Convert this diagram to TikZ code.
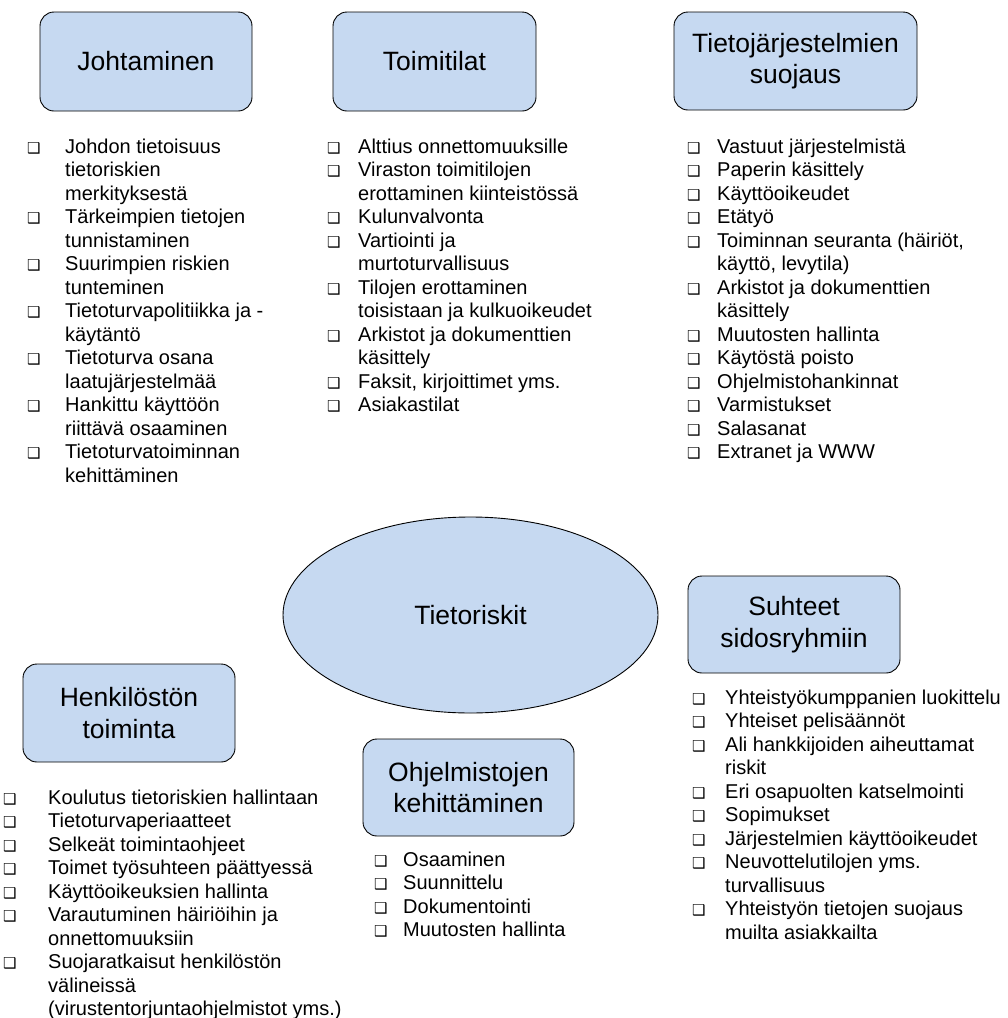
\documentclass[tikz,border=0pt]{standalone}
\usepackage{fontspec}
\setmainfont{Liberation Sans}
\newfontfamily\merkkifont{DejaVu Sans}
\usepackage{tikz}
\usetikzlibrary{positioning,shapes.geometric}
\definecolor{aiheblue}{RGB}{198,217,241}
\newcommand{\kohta}{{\merkkifont\bfseries\fontsize{15}{15}\selectfont ❑}}

\begin{document}
\begin{tikzpicture}[x=1pt,y=-1pt,
    topic node/.style={draw,rounded corners=14pt,fill=aiheblue,line width=0.9pt,
        align=center,inner sep=0pt,font=\fontsize{26.5}{31.5}\selectfont},
    risk node/.style={ellipse,draw,fill=aiheblue,line width=0.9pt,inner sep=0pt,
        minimum width=375pt,minimum height=196pt,font=\fontsize{26.5}{31.5}\selectfont},
    list node/.style={anchor=base west,inner sep=0pt,font=\fontsize{20}{23.5}\selectfont}]
\useasboundingbox (0,0) rectangle (1008,1018);
%Nodes
    \node[topic node, minimum width=212pt, minimum height=99pt] (johtaminen) at (146,61.5) {Johtaminen};
    \node[topic node, minimum width=203pt, minimum height=99pt] (toimitilat) at (434.5,61.5) {Toimitilat};
    \node[topic node, minimum width=243pt, minimum height=98pt] (tjsuojaus) at (795.5,61) {Tietojärjestelmien\\suojaus};
    \node[risk node] (tietoriskit) at (470.5,615) {Tietoriskit};
    \node[topic node, minimum width=212pt, minimum height=97pt] (suhteet) at (794,624.5) {Suhteet\\sidosryhmiin};
    \node[topic node, minimum width=212pt, minimum height=98pt] (henkilosto) at (129,713) {Henkilöstön\\toiminta};
    \node[topic node, minimum width=211pt, minimum height=97pt] (ohjelmistot) at (468.5,787.5) {Ohjelmistojen\\kehittäminen};

%Lists
    \node[list node] (johtLista) at (27,153) {\begin{tabular}[t]{@{}p{38pt}@{}l@{}}
        \kohta & Johdon tietoisuus\\
               & tietoriskien\\
               & merkityksestä\\
        \kohta & Tärkeimpien tietojen\\
               & tunnistaminen\\
        \kohta & Suurimpien riskien\\
               & tunteminen\\
        \kohta & Tietoturvapolitiikka ja -\\
               & käytäntö\\
        \kohta & Tietoturva osana\\
               & laatujärjestelmää\\
        \kohta & Hankittu käyttöön\\
               & riittävä osaaminen\\
        \kohta & Tietoturvatoiminnan\\
               & kehittäminen
    \end{tabular}};
    \node[list node] (toimLista) at (327,153) {\begin{tabular}[t]{@{}p{31pt}@{}l@{}}
        \kohta & Alttius onnettomuuksille\\
        \kohta & Viraston toimitilojen\\
               & erottaminen kiinteistössä\\
        \kohta & Kulunvalvonta\\
        \kohta & Vartiointi ja\\
               & murtoturvallisuus\\
        \kohta & Tilojen erottaminen\\
               & toisistaan ja kulkuoikeudet\\
        \kohta & Arkistot ja dokumenttien\\
               & käsittely\\
        \kohta & Faksit, kirjoittimet yms.\\
        \kohta & Asiakastilat
    \end{tabular}};
    \node[list node] (tjLista) at (687,153) {\begin{tabular}[t]{@{}p{30pt}@{}l@{}}
        \kohta & Vastuut järjestelmistä\\
        \kohta & Paperin käsittely\\
        \kohta & Käyttöoikeudet\\
        \kohta & Etätyö\\
        \kohta & Toiminnan seuranta (häiriöt,\\
               & käyttö, levytila)\\
        \kohta & Arkistot ja dokumenttien\\
               & käsittely\\
        \kohta & Muutosten hallinta\\
        \kohta & Käytöstä poisto\\
        \kohta & Ohjelmistohankinnat\\
        \kohta & Varmistukset\\
        \kohta & Salasanat\\
        \kohta & Extranet ja WWW
    \end{tabular}};
    \node[list node] (suhdeLista) at (692,704) {\begin{tabular}[t]{@{}p{33pt}@{}l@{}}
        \kohta & Yhteistyökumppanien luokittelu\\
        \kohta & Yhteiset pelisäännöt\\
        \kohta & Ali hankkijoiden aiheuttamat\\
               & riskit\\
        \kohta & Eri osapuolten katselmointi\\
        \kohta & Sopimukset\\
        \kohta & Järjestelmien käyttöoikeudet\\
        \kohta & Neuvottelutilojen yms.\\
               & turvallisuus\\
        \kohta & Yhteistyön tietojen suojaus\\
               & muilta asiakkailta
    \end{tabular}};
    \node[list node] (henkLista) at (3,804) {\begin{tabular}[t]{@{}p{45pt}@{}l@{}}
        \kohta & Koulutus tietoriskien hallintaan\\
        \kohta & Tietoturvaperiaatteet\\
        \kohta & Selkeät toimintaohjeet\\
        \kohta & Toimet työsuhteen päättyessä\\
        \kohta & Käyttöoikeuksien hallinta\\
        \kohta & Varautuminen häiriöihin ja\\
               & onnettomuuksiin\\
        \kohta & Suojaratkaisut henkilöstön\\
               & välineissä\\
               & (virustentorjuntaohjelmistot yms.)
    \end{tabular}};
    \node[list node] (ohjLista) at (374,866) {\begin{tabular}[t]{@{}p{29pt}@{}l@{}}
        \kohta & Osaaminen\\
        \kohta & Suunnittelu\\
        \kohta & Dokumentointi\\
        \kohta & Muutosten hallinta
    \end{tabular}};
\end{tikzpicture}
\end{document}
